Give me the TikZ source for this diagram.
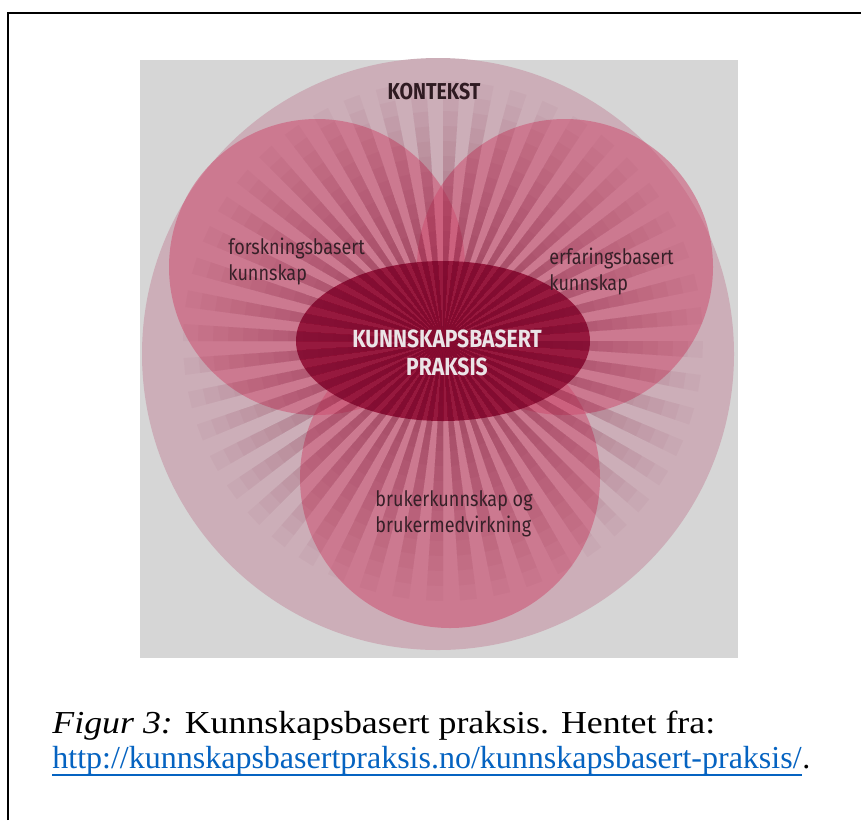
\documentclass[tikz,border=0pt]{standalone}
\usepackage{fontspec}
\setmainfont{Liberation Serif}
\newfontfamily\diafont[FakeStretch=0.85]{Fira Sans}
\usepackage{xcolor}
\usetikzlibrary{positioning}

\definecolor{bggray}{RGB}{214,214,214}
\definecolor{kontekstpink}{RGB}{204,174,184}
\definecolor{circlepink}{RGB}{204,78,112}
\definecolor{praksisred}{RGB}{150,25,62}
\definecolor{rayred}{RGB}{105,0,35}
\definecolor{labeldark}{RGB}{55,32,40}
\definecolor{praksistext}{RGB}{235,228,231}
\definecolor{linkblue}{RGB}{5,99,193}

\tikzset{
  knowledge/.style={fill=circlepink, fill opacity=0.55},
  circlelabel/.style={font=\diafont\fontsize{10.6}{13}\selectfont, text=labeldark,
    align=left, inner sep=0pt, anchor=north west},
  headlabel/.style={font=\diafont\bfseries\fontsize{11.5}{13}\selectfont, text=labeldark!85!black,
    inner sep=0pt},
  praksislabel/.style={font=\diafont\bfseries\fontsize{12.4}{14}\selectfont, text=praksistext,
    align=center, inner sep=0pt, anchor=north},
  captiontext/.style={font=\fontsize{16}{17.5}\selectfont, inner sep=0pt, anchor=base west}
}

\begin{document}
\begin{tikzpicture}[x=0.5pt,y=-0.5pt]
  \useasboundingbox (0,0) rectangle (861,820);
  \fill[white] (0,0) rectangle (861,820);
  \draw[line width=1pt] (8,820) -- (8,12.5) -- (861,12.5);

  % background and context circle
  \fill[bggray] (140,60) rectangle (738,658);
  \coordinate (K) at (438,354);
  \fill[kontekstpink] (K) circle[radius=296];

  % three knowledge sources
  \coordinate (FB) at (317,267);
  \coordinate (EB) at (565,267);
  \coordinate (BK) at (450,478);
  \fill[knowledge] (FB) circle[radius=148];
  \fill[knowledge] (EB) circle[radius=148];
  \fill[knowledge] (BK) circle[radius=150];

  \coordinate (C) at (443,341);
  \fill[praksisred] (C) ellipse[x radius=147, y radius=80];

  % rays, fading outwards
  \def\raystep{7.5}
  \def\rayhalf{3.75}
  \begin{scope}
    \clip (K) circle[radius=296];
    \foreach \r in {260,245,...,40}{
      \fill[rayred, fill opacity=0.032]
        \foreach \a in {0,\raystep,...,359}{ (C) -- +(\a:\r) -- +(\a+\rayhalf:\r) -- cycle };
    }
  \end{scope}

  \node[headlabel] (kontekst) at (434,92) {KONTEKST};
  \node[praksislabel] (praksis) at (447,329) {KUNNSKAPSBASERT\\PRAKSIS};
  \node[circlelabel] (forsk) at (228,238) {forskningsbasert\\kunnskap};
  \node[circlelabel] (erfar) at (549,248) {erfaringsbasert\\kunnskap};
  \node[circlelabel] (bruker) at (375,490) {brukerkunnskap og\\brukermedvirkning};

  % caption
  \node[captiontext] (cap) at (52,733) {\scalebox{1.12}[1]{\textit{Figur 3:} Kunnskapsbasert praksis. Hentet fra:}};
  \node[captiontext, text=linkblue] (link) at (52,768) {http://kunnskapsbasertpraksis.no/kunnskapsbasert-praksis/};
  \node[captiontext] (dot) at (link.base east) {.};
  \draw[linkblue, line width=1pt] ([yshift=-3.5pt]link.base west) -- ([yshift=-3.5pt]link.base east);
\end{tikzpicture}
\end{document}
